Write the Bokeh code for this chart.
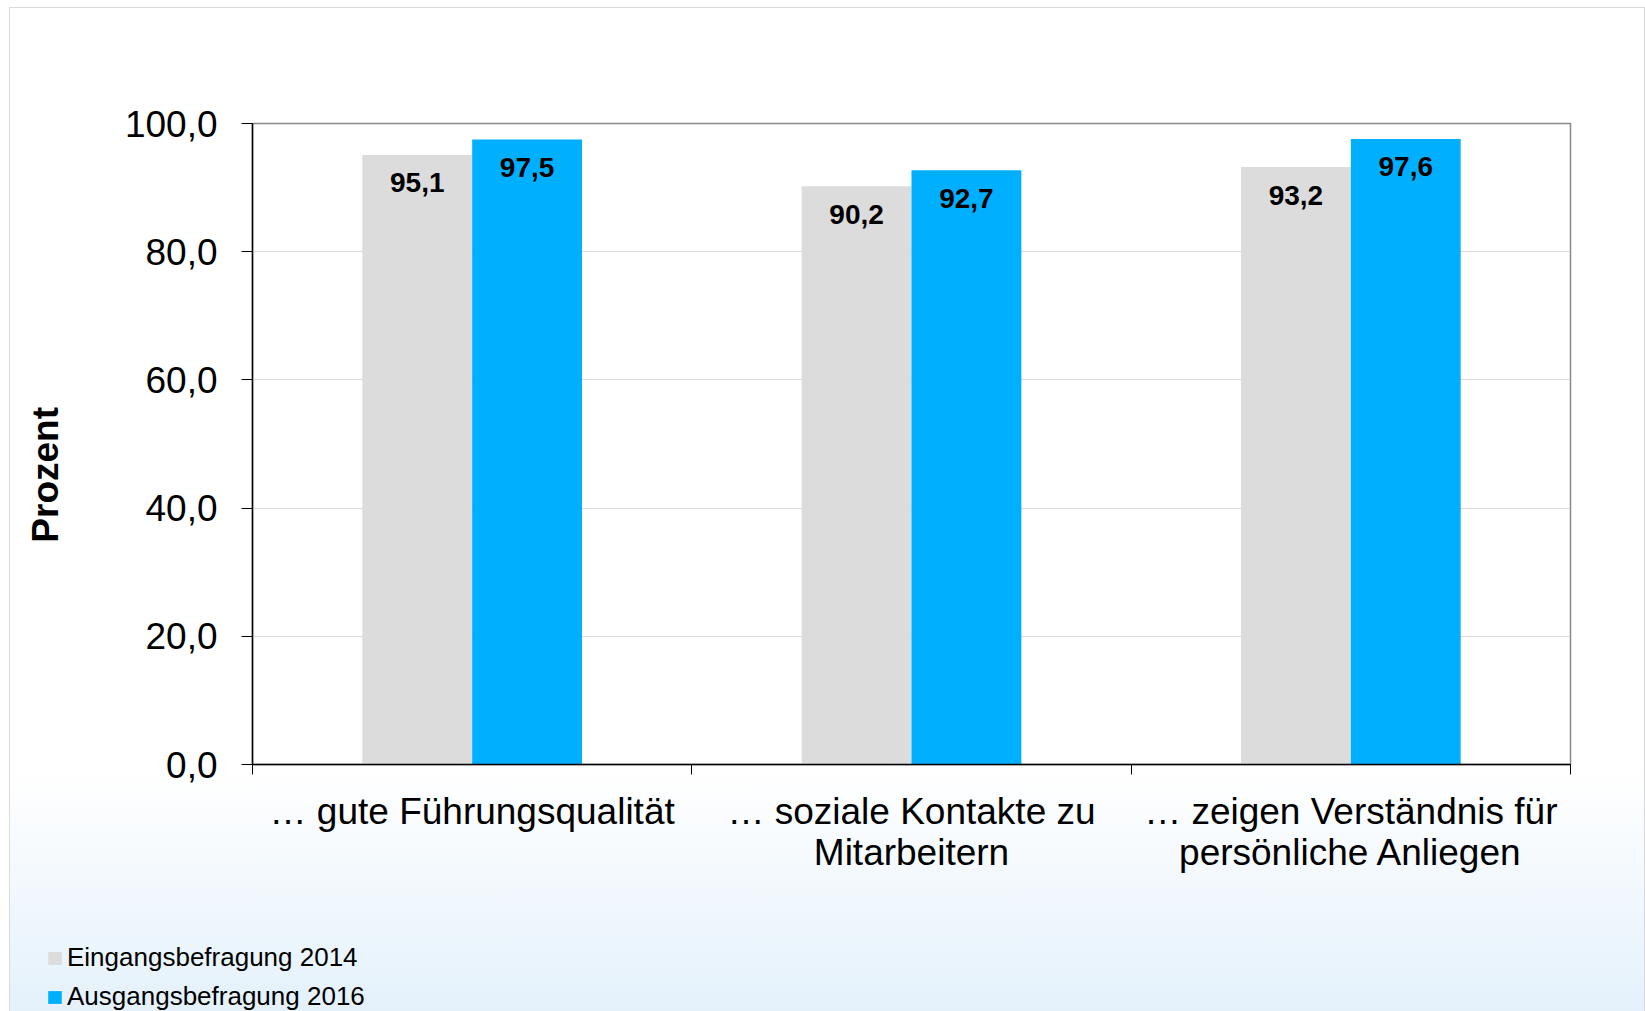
from bokeh.plotting import figure
from bokeh.models import Range1d, FixedTicker, Legend, LegendItem, ColumnDataSource
from bokeh.layouts import column, row
from bokeh.core.properties import value
from bokeh.embed import file_html
from bokeh.resources import INLINE
import numpy as np

# ---- data ----
categories = ["… gute Führungsqualität",
              "… soziale Kontakte zu\nMitarbeitern",
              "… zeigen Verständnis für\npersönliche Anliegen"]
series_names = ["Eingangsbefragung 2014", "Ausgangsbefragung 2016"]
values_2014 = [95.1, 90.2, 93.2]
values_2016 = [97.5, 92.7, 97.6]
y_ticks = [0, 20, 40, 60, 80, 100]
y_tick_labels = ["0,0", "20,0", "40,0", "60,0", "80,0", "100,0"]
y_title = "Prozent"

FONT = "Liberation Sans"
colors = ["#dcdcdc", "#00b0ff"]

W = 1634
p = figure(width=W, height=930, output_backend="svg", toolbar_location=None,
           x_range=Range1d(0, len(categories)), y_range=Range1d(0, 100))
p.min_border_left = 242
p.min_border_right = 74
p.min_border_top = 115
p.min_border_bottom = 174
p.border_fill_alpha = 0
p.background_fill_color = "white"
p.outline_line_color = "#888888"
p.outline_line_width = 1.5

idx = np.arange(len(categories))
series = [values_2014, values_2016]
for k, (vals, col) in enumerate(zip(series, colors)):
    xs = idx + 0.5 + (k - 0.5) * 0.25
    src = ColumnDataSource(dict(x=xs, top=vals, lab=[f"{v:.1f}".replace(".", ",") for v in vals]))
    p.vbar(x="x", top="top", width=0.25, source=src, fill_color=col, line_color=None)
    p.text(x="x", y="top", text="lab", source=src, y_offset=28,
           text_align="center", text_baseline="middle",
           text_font=value(FONT), text_font_size="28px", text_font_style="bold", text_color="black")

# y axis
ya = p.yaxis[0]
ya.ticker = FixedTicker(ticks=y_ticks)
ya.major_label_overrides = {t: l for t, l in zip(y_ticks, y_tick_labels)}
ya.major_label_text_font = FONT
ya.major_label_text_font_size = "37px"
ya.major_label_text_color = "black"
ya.major_tick_out = 11
ya.major_tick_in = 0
ya.minor_tick_out = 0
ya.minor_tick_in = 0
ya.major_label_standoff = 24
ya.axis_line_color = "black"
ya.axis_line_width = 1.5
ya.major_tick_line_color = "black"
# trailing no-break spaces shift the rotated title slightly below the frame centre, as in the original
ya.axis_label = y_title + "\u00a0" * 6
ya.axis_label_text_font = FONT
ya.axis_label_text_font_size = "37px"
ya.axis_label_text_font_style = "bold"
ya.axis_label_text_color = "black"
ya.axis_label_standoff = 56

# x axis
xa = p.xaxis[0]
centers = [float(i) + 0.5 for i in idx]
xa.ticker = FixedTicker(ticks=centers, minor_ticks=[float(i) for i in range(len(categories) + 1)])
xa.major_label_overrides = {c: lab for c, lab in zip(centers, categories)}
xa.major_label_text_font = FONT
xa.major_label_text_font_size = "37px"
xa.major_label_text_color = "black"
xa.major_label_text_line_height = 1.0
xa.major_tick_out = 0
xa.major_tick_in = 0
xa.minor_tick_out = 10
xa.minor_tick_in = 0
xa.minor_tick_line_color = "black"
xa.major_label_standoff = 16
xa.axis_line_color = "black"
xa.axis_line_width = 1.5

p.xgrid.grid_line_color = None
p.ygrid.ticker = FixedTicker(ticks=y_ticks)
p.ygrid.grid_line_color = "#d9d9d9"
p.ygrid.grid_line_width = 1.2

# legend strip (proxy bars lie outside its y-range, only their legend swatches show)
p2 = figure(width=W, height=74, output_backend="svg", toolbar_location=None,
            x_range=Range1d(0, len(categories)), y_range=Range1d(1000, 1001),
            x_axis_location=None, y_axis_location=None, min_border=0)
p2.min_border_left = 0
p2.border_fill_alpha = 0
p2.background_fill_alpha = 0
p2.outline_line_color = None
p2.grid.grid_line_color = None
leg_r = []
for k, (vals, col) in enumerate(zip(series, colors)):
    xs = idx + 0.5 + (k - 0.5) * 0.25
    leg_r.append(p2.vbar(x=xs, top=vals, width=0.25, fill_color=col, line_color=None))
legend = Legend(items=[LegendItem(label=n, renderers=[r]) for n, r in zip(series_names, leg_r)],
                location=(36, 0), orientation="vertical")
legend.label_text_font = FONT
legend.label_text_font_size = "26px"
legend.label_text_color = "black"
legend.glyph_width = 17
legend.glyph_height = 16
legend.label_height = 28
legend.spacing = 8
legend.padding = 0
legend.margin = 0
legend.label_standoff = 4
legend.background_fill_alpha = 0
legend.border_line_color = None
p2.add_layout(legend, "center")

root = column(p, row(p2), spacing=0)
root.styles = {"margin-left": "9px", "margin-top": "7px",
               "border": "1px solid #dadada",
               "background": "linear-gradient(to bottom, #ffffff 0%, #ffffff 76%, #e4f1fb 100%)"}

open("out.html", "w").write(file_html(root, INLINE))
